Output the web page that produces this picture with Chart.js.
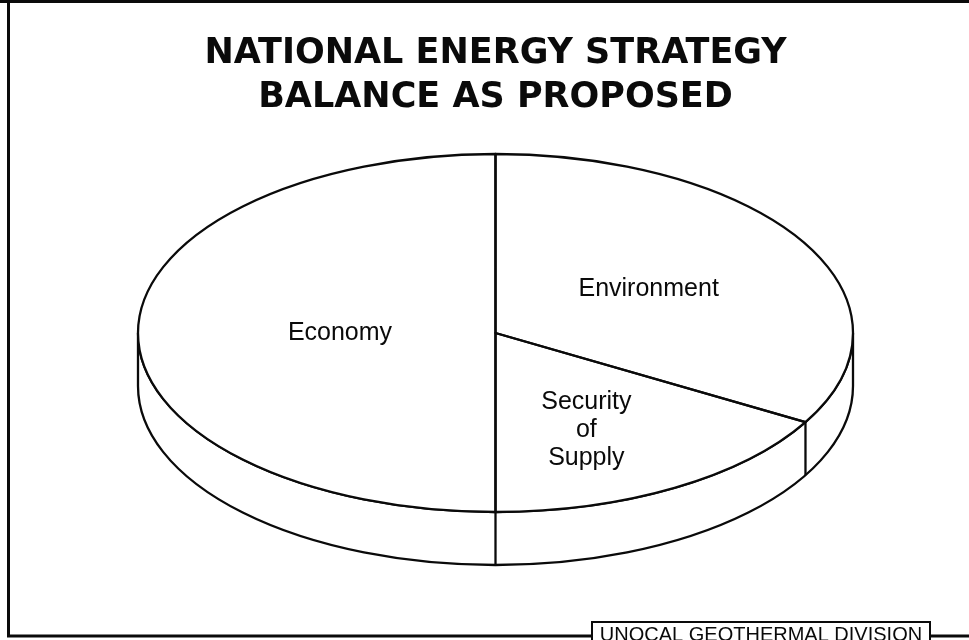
<!DOCTYPE html>
<html>
<head>
<meta charset="utf-8">
<title>National Energy Strategy</title>
<script src="https://cdn.jsdelivr.net/npm/chart.js@4.4.1/dist/chart.umd.min.js"></script>
<style>
  html, body { margin: 0; padding: 0; background: #fff; }
  canvas { display: block; }
</style>
</head>
<body>
<canvas id="balanceChart" width="969" height="640"></canvas>
<script>
// Shares of the proposed strategy, clockwise from twelve o'clock
const categories = ['Environment', 'Security of Supply', 'Economy'];
const shares = [33.3, 16.7, 50];
// How each category is written inside its slice
const labelLines = [['Environment'], ['Security', 'of', 'Supply'], ['Economy']];
const titleLines = ['NATIONAL ENERGY STRATEGY', 'BALANCE AS PROPOSED'];
const footerText = 'UNOCAL GEOTHERMAL DIVISION';

const ink = '#0a0a0a';
const PEN = 2.3;    // outline width
const DEPTH = 53;   // height of the pie's side wall

// where each label sits: fraction of the radius, plus a small turn in degrees
const labelSpots = [
  { r: 0.495, turn: 0 },
  { r: 0.60, turn: 5 },
  { r: 0.435, turn: 0 }
];

function ellipseOf(chart) {
  const a = chart.chartArea;
  return {
    cx: (a.left + a.right) / 2,
    cy: (a.top + a.bottom) / 2,
    rx: (a.right - a.left) / 2,
    ry: (a.bottom - a.top) / 2
  };
}

// stretch the round pie out to the ellipse of the chart area
function squash(ctx, arc, e) {
  ctx.translate(e.cx, e.cy);
  ctx.scale(e.rx / arc.outerRadius, e.ry / arc.outerRadius);
  ctx.translate(-arc.x, -arc.y);
}

const tiltedPie = {
  id: 'tiltedPie',
  beforeDatasetsDraw(chart) {
    const ctx = chart.ctx;
    const e = ellipseOf(chart);
    const arcs = chart.getDatasetMeta(0).data;

    // side wall: front half of the rim dropped by DEPTH
    ctx.save();
    ctx.beginPath();
    ctx.ellipse(e.cx, e.cy, e.rx, e.ry, 0, 0, Math.PI);
    ctx.lineTo(e.cx - e.rx, e.cy + DEPTH);
    ctx.ellipse(e.cx, e.cy + DEPTH, e.rx, e.ry, 0, Math.PI, 0, true);
    ctx.closePath();
    ctx.fillStyle = '#fff';
    ctx.fill();
    ctx.lineWidth = PEN;
    ctx.strokeStyle = ink;
    ctx.stroke();

    // seams where slice edges meet the front wall
    arcs.forEach(arc => {
      let a = arc.startAngle % (2 * Math.PI);
      if (a < 0) a += 2 * Math.PI;
      if (a > 0.01 && a < Math.PI - 0.01) {
        const x = e.cx + e.rx * Math.cos(a);
        const y = e.cy + e.ry * Math.sin(a);
        ctx.beginPath();
        ctx.moveTo(x, y);
        ctx.lineTo(x, y + DEPTH);
        ctx.stroke();
      }
    });
    ctx.restore();

    // slices themselves get drawn squashed
    ctx.save();
    squash(ctx, arcs[0], e);
  },
  afterDatasetsDraw(chart) {
    const ctx = chart.ctx;
    ctx.restore();
    const e = ellipseOf(chart);
    const arcs = chart.getDatasetMeta(0).data;

    ctx.save();
    ctx.strokeStyle = ink;
    ctx.lineWidth = PEN;
    ctx.lineJoin = 'round';
    arcs.forEach(arc => {
      // build the path stretched, stroke it with an even pen
      ctx.save();
      squash(ctx, arc, e);
      ctx.beginPath();
      ctx.moveTo(arc.x, arc.y);
      ctx.arc(arc.x, arc.y, arc.outerRadius, arc.startAngle, arc.endAngle);
      ctx.closePath();
      ctx.restore();
      ctx.stroke();
    });

    ctx.fillStyle = ink;
    ctx.font = '25px "Liberation Sans", Arial, sans-serif';
    ctx.textAlign = 'center';
    ctx.textBaseline = 'middle';
    arcs.forEach((arc, i) => {
      const spot = labelSpots[i];
      const mid = (arc.startAngle + arc.endAngle) / 2 + spot.turn * Math.PI / 180;
      const x = e.cx + spot.r * e.rx * Math.cos(mid);
      const y = e.cy + spot.r * e.ry * Math.sin(mid);
      const lines = labelLines[i];
      lines.forEach((t, k) => {
        ctx.fillText(t, x, y + (k - (lines.length - 1) / 2) * 28);
      });
    });
    ctx.restore();
  }
};

const sheetFrame = {
  id: 'sheetFrame',
  afterDraw(chart) {
    const ctx = chart.ctx;
    const w = chart.width;
    ctx.save();
    ctx.strokeStyle = ink;
    ctx.lineWidth = 3;
    ctx.beginPath();
    ctx.moveTo(0, 1.5);
    ctx.lineTo(w, 1.5);
    ctx.moveTo(8.5, 0);
    ctx.lineTo(8.5, 636);
    ctx.lineTo(w, 636);
    ctx.stroke();

    // division tag sitting on the bottom rule
    ctx.fillStyle = '#fff';
    ctx.fillRect(592, 622, 338, 20);
    ctx.lineWidth = 2;
    ctx.strokeRect(592, 622, 338, 30);
    ctx.fillStyle = ink;
    ctx.font = '20px "Liberation Sans", Arial, sans-serif';
    ctx.textAlign = 'center';
    ctx.textBaseline = 'alphabetic';
    ctx.fillText(footerText, 761, 641);
    ctx.restore();
  }
};

new Chart(document.getElementById('balanceChart'), {
  type: 'pie',
  data: {
    labels: categories,
    datasets: [{
      data: shares,
      backgroundColor: '#fff',
      borderWidth: 0,
      hoverOffset: 0
    }]
  },
  options: {
    responsive: false,
    animation: false,
    events: [],
    devicePixelRatio: 1,
    layout: { padding: { top: 0, left: 138, right: 116, bottom: 128 } },
    plugins: {
      legend: { display: false },
      tooltip: { enabled: false },
      title: {
        display: true,
        text: titleLines,
        color: ink,
        font: { family: '"DejaVu Sans", sans-serif', size: 35, weight: 'bold', lineHeight: 44 / 35 },
        padding: { top: 31.5, bottom: 34.5 }
      }
    }
  },
  plugins: [tiltedPie, sheetFrame]
});
</script>
</body>
</html>
